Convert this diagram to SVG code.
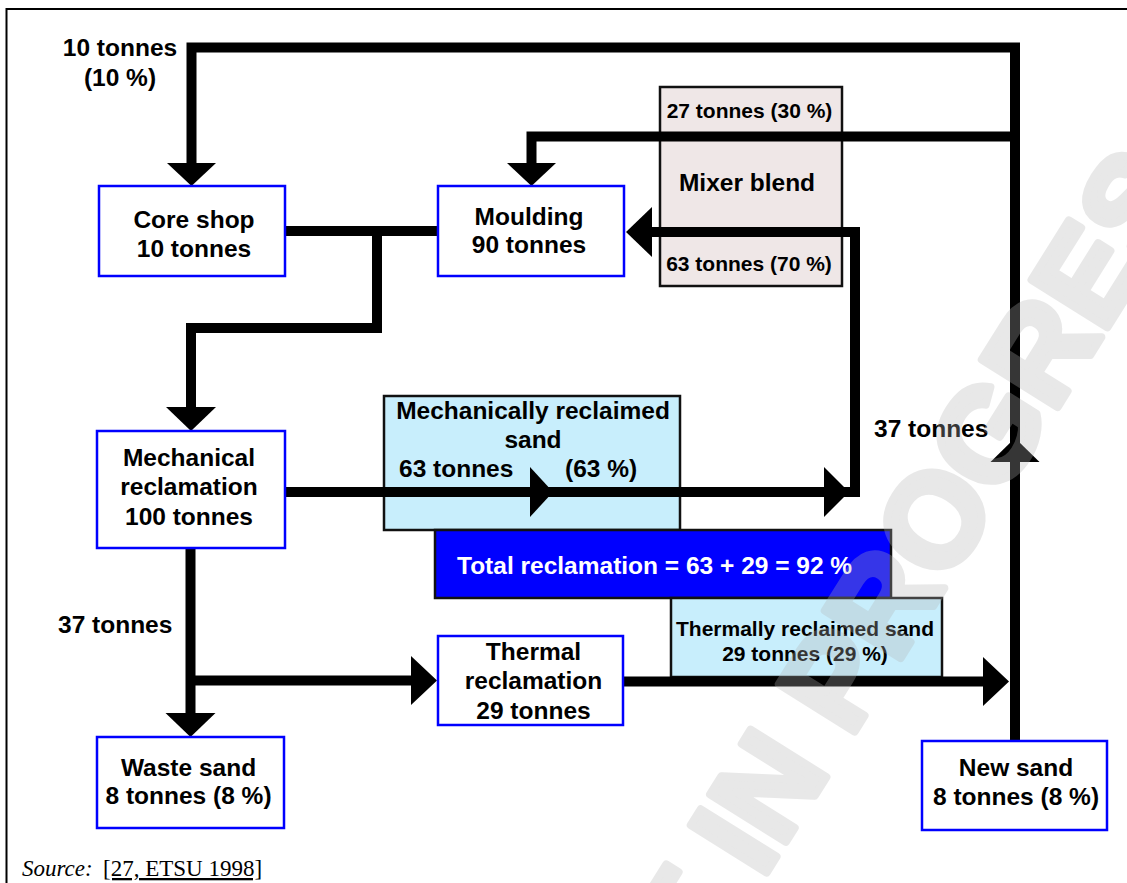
<svg xmlns="http://www.w3.org/2000/svg" width="1127" height="883" viewBox="0 0 1127 883">
<style>
.t{font-family:"Liberation Sans",Arial,sans-serif;font-weight:bold;font-size:24.5px;fill:#000;text-anchor:middle}
.s{font-size:21px}
.l{text-anchor:start}
.node{fill:#fff;stroke:#0000ff;stroke-width:2.5}
.pink{fill:#efe7e7;stroke:#111;stroke-width:2.5}
.cyan{fill:#c8eefc;stroke:#111;stroke-width:2.5}
.con{fill:none;stroke:#000;stroke-width:10;stroke-linejoin:miter}
.ah{fill:#000}
.src{font-family:"Liberation Serif","Times New Roman",serif;font-size:23px;fill:#000}
</style>
<rect width="1127" height="883" fill="#fff"/>
<path d="M1127,9 H6.5 V883" fill="none" stroke="#000" stroke-width="2"/>

<g id="mixer">
<rect class="pink" x="660" y="87" width="182" height="199"/>
<text class="t s" x="749.5" y="117.5">27 tonnes (30 %)</text>
<text class="t" x="747" y="191">Mixer blend</text>
<text class="t s" x="749" y="271">63 tonnes (70 %)</text>
</g>
<g id="mech-sand">
<rect class="cyan" x="384" y="396" width="296" height="134"/>
<text class="t" x="533" y="419">Mechanically reclaimed</text>
<text class="t" x="533" y="448">sand</text>
<text class="t l" x="399" y="477">63 tonnes</text>
<text class="t l" x="565" y="477">(63 %)</text>
</g>
<g id="total">
<rect x="435" y="530" width="456" height="68" fill="#0000ff" stroke="#111" stroke-width="2.5"/>
<text class="t l" x="457" y="574" style="fill:#fff">Total reclamation = 63 + 29 = 92 %</text>
</g>
<g id="thermal-sand">
<rect class="cyan" x="671" y="598" width="271" height="79"/>
<text class="t s" x="805" y="636">Thermally reclaimed sand</text>
<text class="t s" x="805" y="661">29 tonnes (29 %)</text>
</g>

<g id="connectors">
<path class="con" d="M1015,741 V47.5 H191.5 V166"/>
<path class="con" d="M1015,136.5 H531.5 V166"/>
<path class="con" d="M285,231 H438"/>
<path class="con" d="M377,231 V328 H191 V410"/>
<path class="con" d="M285,492 H855 V232 H650"/>
<path class="con" d="M190.5,548 V716"/>
<path class="con" d="M190.5,680.5 H413"/>
<path class="con" d="M623,681.5 H985"/>
<polygon class="ah" points="167,163 216,163 191.5,186"/>
<polygon class="ah" points="507,163 556,163 531.5,186"/>
<polygon class="ah" points="652,207 652,257 626,232"/>
<polygon class="ah" points="166,407 216,407 191,431"/>
<polygon class="ah" points="530,467 530,517 553,492"/>
<polygon class="ah" points="824,467 824,517 849,492"/>
<polygon class="ah" points="165.5,713 215.5,713 190.5,737"/>
<polygon class="ah" points="411,656 411,705 437,680.5"/>
<polygon class="ah" points="983,657 983,706 1009,681.5"/>
<polygon class="ah" points="990.5,462 1039.5,462 1015,438"/>
</g>

<g id="labels">
<text class="t" x="120" y="56">10 tonnes</text>
<text class="t" x="120" y="85.5">(10 %)</text>
<text class="t l" x="874" y="437">37 tonnes</text>
<text class="t l" x="58" y="633">37 tonnes</text>
</g>

<g id="core-shop">
<rect class="node" x="99" y="186" width="186" height="90"/>
<text class="t" x="194" y="228">Core shop</text>
<text class="t" x="194" y="257">10 tonnes</text>
</g>
<g id="moulding">
<rect class="node" x="438" y="186" width="186" height="90"/>
<text class="t" x="529" y="224.5">Moulding</text>
<text class="t" x="529" y="253">90 tonnes</text>
</g>
<g id="mech-reclamation">
<rect class="node" x="97" y="431" width="188" height="117"/>
<text class="t" x="189" y="466">Mechanical</text>
<text class="t" x="189" y="495">reclamation</text>
<text class="t" x="189" y="525">100 tonnes</text>
</g>
<g id="thermal-reclamation">
<rect class="node" x="438" y="636" width="185" height="89"/>
<text class="t" x="533.5" y="659.5">Thermal</text>
<text class="t" x="533.5" y="689">reclamation</text>
<text class="t" x="533.5" y="718.5">29 tonnes</text>
</g>
<g id="waste-sand">
<rect class="node" x="97" y="737" width="187" height="91"/>
<text class="t" x="188.5" y="776">Waste sand</text>
<text class="t" x="188.5" y="804">8 tonnes (8 %)</text>
</g>
<g id="new-sand">
<rect class="node" x="922" y="741" width="185" height="89"/>
<text class="t" x="1016" y="776">New sand</text>
<text class="t" x="1016" y="805">8 tonnes (8 %)</text>
</g>

<g id="source">
<text class="src" x="22" y="876"><tspan font-style="italic">Source:</tspan></text>
<text class="src" x="103" y="876" text-decoration="underline">[27, ETSU 1998]</text>
</g>

<g id="watermark" opacity="0.3" transform="translate(762,880) rotate(-58)">
<g style="font-family:'Liberation Sans',Arial,sans-serif;font-weight:bold;font-size:130px;fill:#b4b4b4;stroke:#b4b4b4;stroke-width:8;stroke-linejoin:round">
<text x="-36" y="0" text-anchor="end">WORKING DRAFT</text>
<text x="0" y="0">IN PROGRESS</text>
</g>
</g>
</svg>
